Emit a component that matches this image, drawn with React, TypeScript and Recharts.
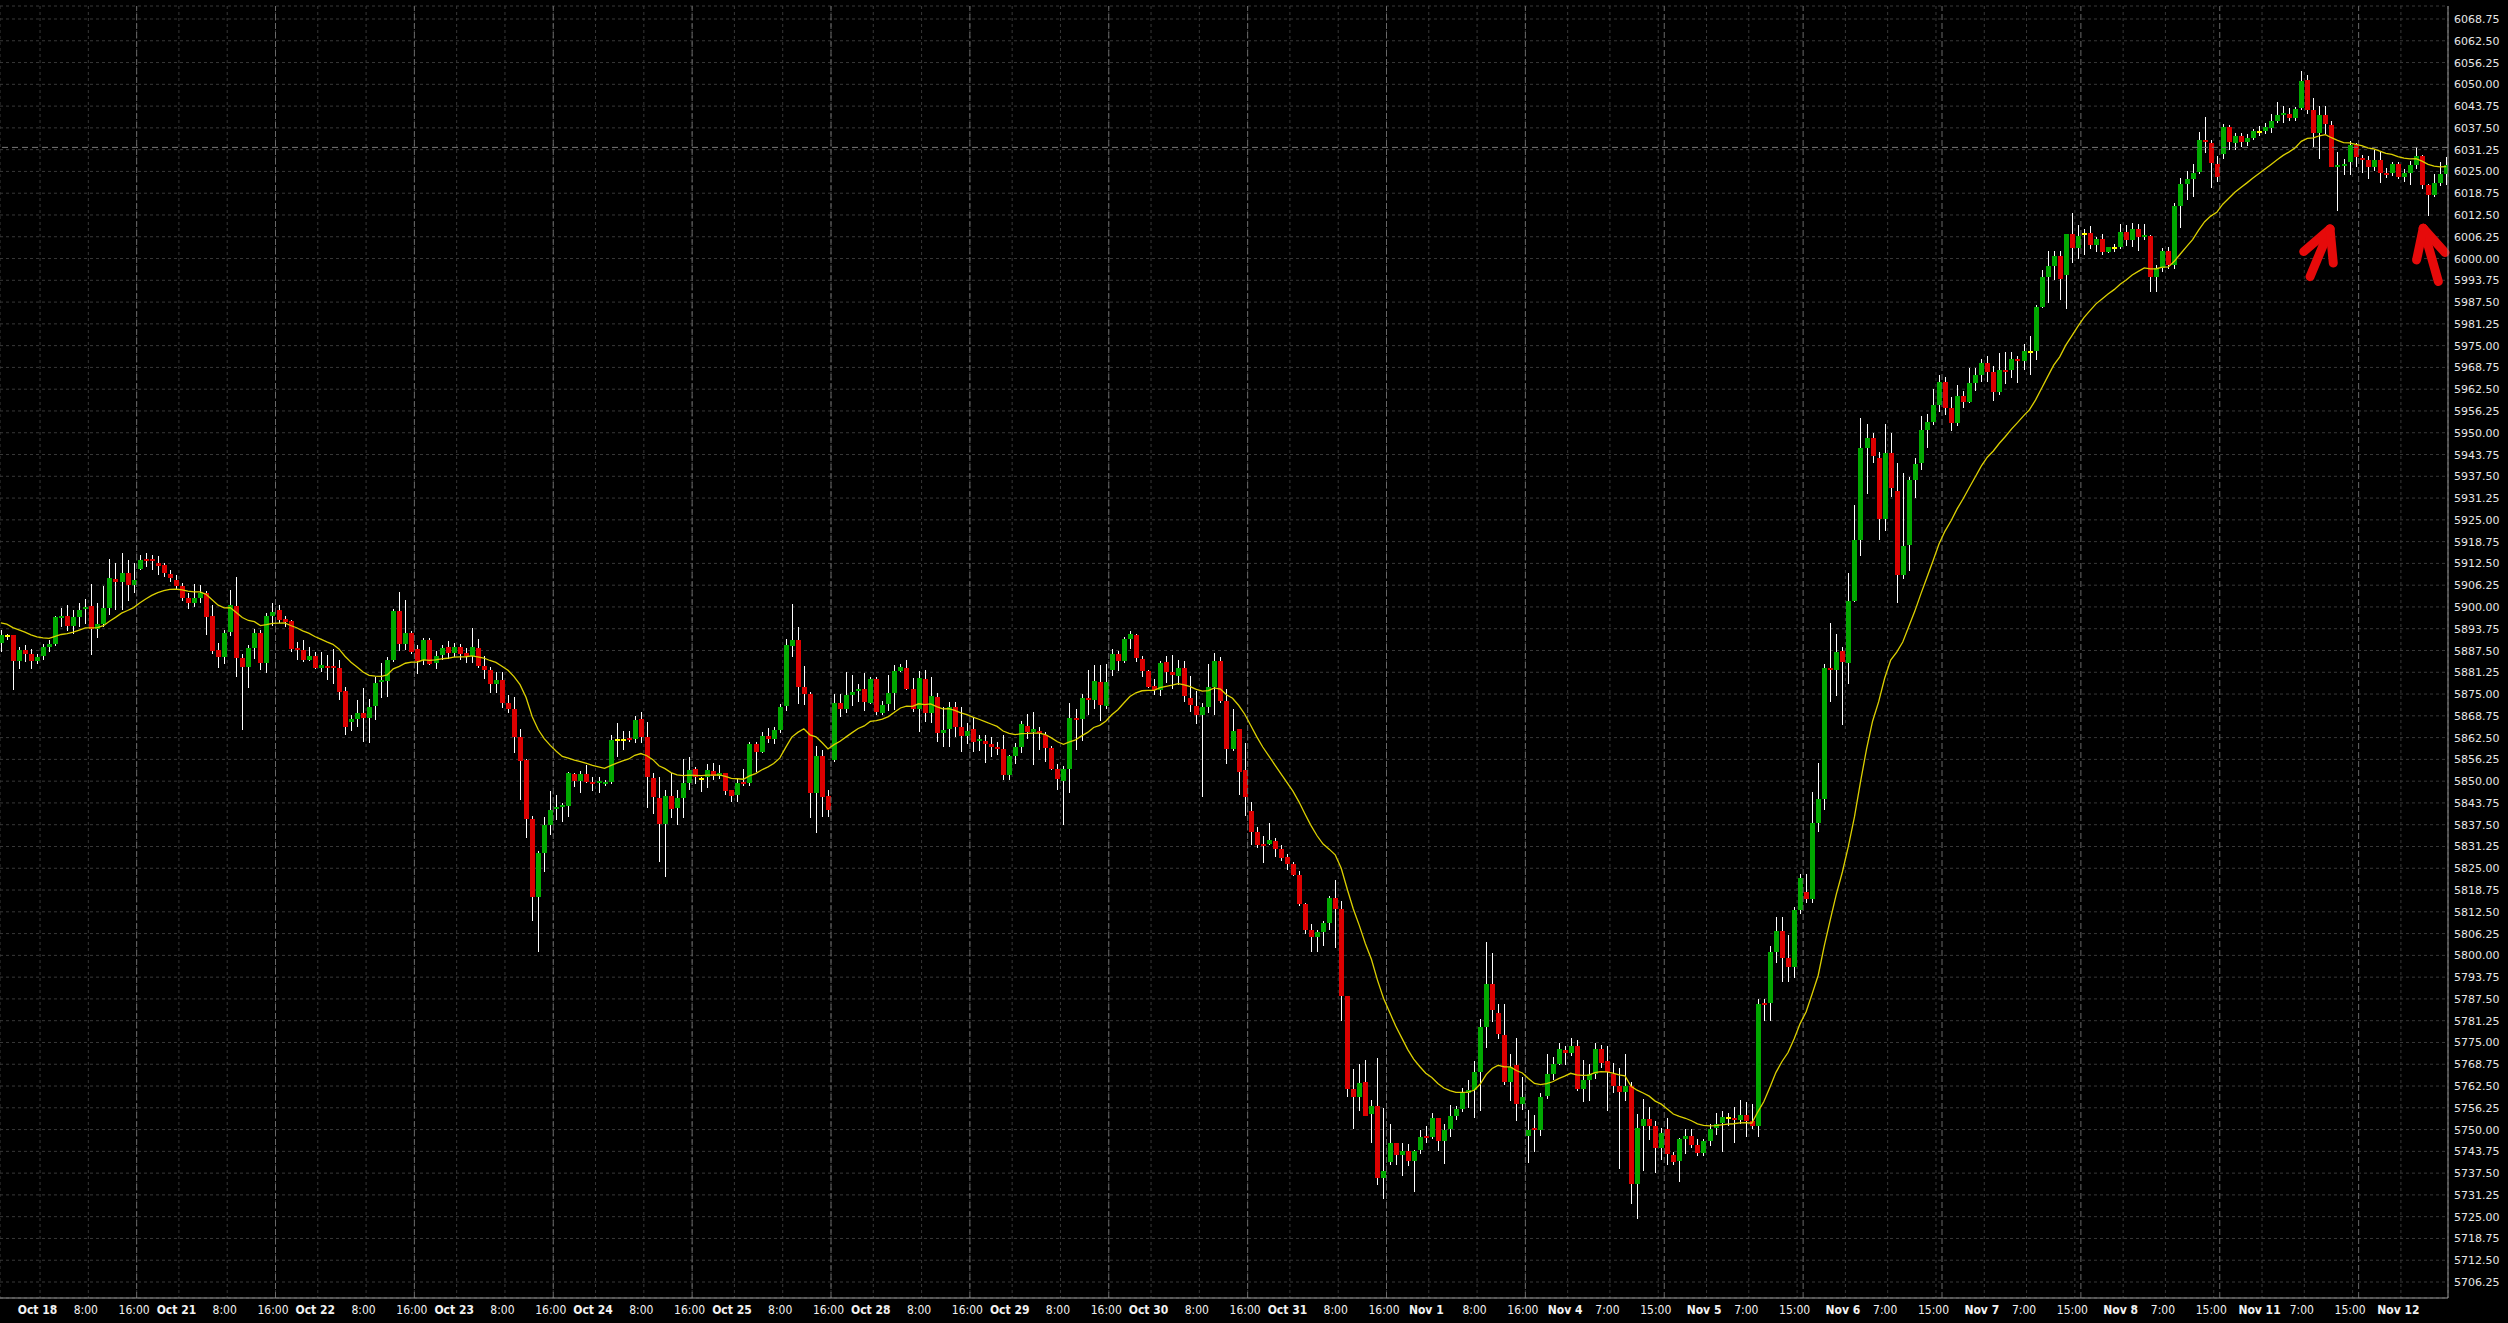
import React from 'react';
import { ComposedChart, Bar, Line, XAxis, YAxis, CartesianGrid, ReferenceLine } from 'recharts';

const W = 2508;
const H = 1323;

// hourly candles, index 0..405
const opens = [
  5889.6, 5891.7, 5891.9, 5884.5, 5887.6, 5886.6, 5884.5, 5885.8, 5888.6, 5889.3,
  5897.0, 5897.4, 5894.6, 5897.2, 5899.4, 5900.4, 5893.6, 5895.1, 5899.8, 5908.0,
  5907.3, 5909.8, 5906.3, 5911.0, 5913.7, 5913.7, 5912.5, 5911.9, 5909.6, 5907.8,
  5906.0, 5902.7, 5901.0, 5902.7, 5903.9, 5897.4, 5887.6, 5885.6, 5892.9, 5900.2,
  5885.4, 5882.9, 5888.1, 5892.6, 5883.9, 5897.4, 5899.1, 5896.4, 5895.9, 5888.3,
  5887.6, 5884.8, 5885.9, 5882.6, 5883.1, 5883.0, 5882.6, 5875.8, 5866.9, 5867.8,
  5869.6, 5868.0, 5871.6, 5878.5, 5878.8, 5884.8, 5898.8, 5889.5, 5892.4, 5887.9,
  5884.8, 5890.5, 5884.0, 5886.2, 5888.6, 5886.7, 5888.6, 5886.7, 5886.0, 5888.3,
  5883.0, 5882.0, 5877.8, 5879.0, 5872.5, 5870.7, 5862.6, 5856.0, 5839.0, 5816.8,
  5829.3, 5837.4, 5842.2, 5842.6, 5843.0, 5852.1, 5850.0, 5852.0, 5849.8, 5849.4,
  5849.3, 5849.8, 5861.8, 5861.8, 5862.3, 5862.0, 5867.7, 5862.6, 5851.0, 5845.3,
  5837.7, 5845.7, 5842.2, 5845.3, 5849.4, 5853.4, 5850.7, 5851.1, 5853.0, 5851.5,
  5852.2, 5847.5, 5846.0, 5849.6, 5849.6, 5860.6, 5858.5, 5862.9, 5862.0, 5864.7,
  5871.6, 5888.8, 5890.5, 5876.9, 5875.0, 5846.7, 5857.2, 5845.7, 5856.0, 5872.3,
  5870.7, 5874.7, 5875.8, 5876.4, 5872.5, 5879.3, 5869.6, 5872.1, 5875.4, 5881.7,
  5882.4, 5876.4, 5870.7, 5879.3, 5869.5, 5874.2, 5863.7, 5865.1, 5871.4, 5865.6,
  5862.9, 5864.9, 5861.5, 5861.6, 5860.8, 5859.7, 5859.2, 5851.8, 5857.2, 5859.8,
  5865.9, 5864.2, 5864.4, 5863.3, 5859.4, 5853.4, 5850.1, 5853.4, 5868.1, 5867.7,
  5873.8, 5873.4, 5878.4, 5871.7, 5881.8, 5886.5, 5884.5, 5890.7, 5892.0, 5885.1,
  5881.5, 5877.2, 5876.1, 5884.2, 5881.3, 5880.3, 5882.4, 5874.0, 5871.7, 5868.9,
  5871.3, 5877.0, 5884.4, 5873.1, 5859.2, 5864.9, 5853.2, 5841.5, 5835.4, 5831.8,
  5832.0, 5832.7, 5830.4, 5828.2, 5826.1, 5823.2, 5814.8, 5807.4, 5805.4, 5806.8,
  5809.4, 5816.6, 5813.3, 5788.4, 5761.6, 5759.4, 5763.6, 5754.4, 5756.8, 5736.0,
  5740.8, 5746.1, 5742.8, 5743.8, 5741.1, 5744.2, 5748.1, 5747.9, 5753.3, 5746.7,
  5750.2, 5753.9, 5755.9, 5760.6, 5761.3, 5766.6, 5779.4, 5791.9, 5783.6, 5777.2,
  5763.6, 5768.4, 5757.3, 5748.2, 5750.4, 5749.8, 5759.6, 5766.0, 5768.9, 5772.7,
  5772.1, 5774.0, 5761.6, 5764.1, 5766.0, 5773.2, 5769.6, 5766.0, 5762.5, 5760.9,
  5762.5, 5734.5, 5750.9, 5753.0, 5750.9, 5744.6, 5750.1, 5742.6, 5740.9, 5747.3,
  5748.2, 5745.7, 5743.4, 5746.6, 5750.4, 5752.0, 5753.3, 5753.3, 5752.8, 5754.1,
  5752.5, 5750.9, 5786.4, 5786.4, 5801.1, 5807.1, 5799.2, 5796.6, 5813.1, 5818.3,
  5816.2, 5838.0, 5844.9, 5882.6, 5882.0, 5887.4, 5883.9, 5901.8, 5919.3, 5945.7,
  5948.4, 5942.8, 5925.3, 5944.1, 5933.3, 5909.1, 5917.7, 5936.5, 5941.2, 5950.8,
  5953.2, 5958.0, 5964.5, 5957.0, 5952.8, 5960.5, 5958.7, 5964.2, 5966.7, 5969.9,
  5967.5, 5961.6, 5968.0, 5968.0, 5971.1, 5970.5, 5973.3, 5973.5, 5986.1, 5994.6,
  5997.9, 6000.7, 5995.3, 6007.0, 6003.0, 6007.0, 6007.3, 6004.0, 6005.6, 6001.8,
  6003.0, 6003.2, 6007.6, 6005.4, 6008.6, 6006.2, 6006.5, 5994.6, 5997.4, 6002.1,
  5998.2, 6015.2, 6021.3, 6022.7, 6024.9, 6033.9, 6033.1, 6027.1, 6030.1, 6037.8,
  6033.1, 6035.2, 6033.4, 6034.5, 6036.3, 6036.7, 6037.4, 6039.6, 6041.1, 6041.4,
  6040.3, 6043.3, 6051.3, 6042.5, 6035.9, 6041.1, 6038.3, 6026.4, 6026.7, 6027.6,
  6032.6, 6028.9, 6028.2, 6026.2, 6028.4, 6024.6, 6024.6, 6027.1, 6023.5, 6024.6,
  6026.8, 6029.3, 6021.0, 6018.3, 6021.6, 6024.3,
];

const highs = [
  5893.5, 5892.2, 5892.0, 5888.5, 5889.2, 5887.8, 5886.6, 5889.3, 5890.6, 5897.5,
  5899.8, 5900.5, 5899.2, 5901.0, 5902.4, 5906.5, 5901.1, 5906.0, 5913.9, 5912.7,
  5915.6, 5913.5, 5912.5, 5914.9, 5915.6, 5914.9, 5914.5, 5912.7, 5910.6, 5909.1,
  5906.8, 5903.9, 5906.6, 5906.3, 5904.6, 5900.5, 5889.7, 5893.4, 5904.9, 5908.7,
  5886.4, 5889.0, 5893.8, 5893.5, 5898.2, 5901.2, 5900.5, 5897.4, 5896.2, 5890.0,
  5890.5, 5888.5, 5887.1, 5887.1, 5886.2, 5887.9, 5884.8, 5877.1, 5868.9, 5873.3,
  5876.6, 5873.7, 5879.9, 5884.0, 5885.7, 5899.3, 5904.4, 5902.0, 5893.1, 5889.0,
  5891.0, 5891.0, 5887.4, 5889.0, 5890.3, 5889.7, 5889.5, 5888.3, 5894.1, 5890.7,
  5885.8, 5882.8, 5881.4, 5881.4, 5874.7, 5874.2, 5864.9, 5856.5, 5840.0, 5830.0,
  5839.6, 5847.2, 5846.0, 5843.8, 5852.7, 5852.4, 5853.0, 5854.6, 5851.1, 5851.3,
  5850.3, 5863.2, 5866.8, 5864.5, 5864.5, 5868.7, 5869.9, 5867.0, 5852.4, 5851.1,
  5847.5, 5852.4, 5847.5, 5856.5, 5857.0, 5854.1, 5851.3, 5854.9, 5855.1, 5854.6,
  5852.4, 5847.6, 5850.8, 5853.4, 5861.3, 5861.3, 5864.2, 5865.2, 5865.6, 5872.1,
  5890.7, 5900.8, 5894.3, 5883.1, 5875.7, 5860.1, 5858.9, 5847.5, 5875.0, 5875.0,
  5881.4, 5880.5, 5878.0, 5880.9, 5880.0, 5880.0, 5873.0, 5880.5, 5883.3, 5883.6,
  5884.8, 5879.5, 5881.7, 5881.9, 5879.8, 5875.2, 5871.2, 5872.8, 5872.8, 5871.4,
  5866.6, 5868.0, 5863.2, 5863.2, 5862.8, 5861.3, 5863.2, 5857.5, 5861.0, 5867.3,
  5869.3, 5869.9, 5865.6, 5864.2, 5860.1, 5855.0, 5854.4, 5872.5, 5870.8, 5874.9,
  5882.0, 5883.2, 5883.2, 5883.6, 5888.0, 5887.5, 5891.5, 5893.1, 5892.1, 5885.9,
  5882.0, 5879.2, 5884.4, 5885.9, 5886.3, 5884.7, 5884.4, 5880.3, 5875.8, 5872.3,
  5883.6, 5886.8, 5885.6, 5876.4, 5870.8, 5865.1, 5860.9, 5843.9, 5836.8, 5834.2,
  5838.1, 5833.6, 5831.8, 5829.2, 5826.8, 5824.1, 5815.1, 5808.9, 5807.4, 5809.8,
  5816.9, 5821.7, 5815.7, 5788.4, 5767.5, 5768.9, 5769.9, 5758.6, 5770.5, 5756.2,
  5751.5, 5746.1, 5746.1, 5745.9, 5744.0, 5749.9, 5750.9, 5754.7, 5753.3, 5751.5,
  5757.1, 5756.8, 5761.8, 5764.2, 5769.7, 5781.6, 5803.8, 5800.8, 5786.0, 5785.9,
  5771.6, 5776.4, 5765.2, 5755.7, 5754.1, 5760.5, 5771.6, 5770.8, 5774.8, 5774.0,
  5776.4, 5775.6, 5770.0, 5768.9, 5774.8, 5774.3, 5774.0, 5769.2, 5767.6, 5771.6,
  5763.6, 5754.6, 5758.9, 5756.5, 5752.5, 5750.4, 5753.3, 5743.7, 5747.7, 5750.1,
  5750.1, 5747.3, 5747.3, 5751.7, 5754.9, 5755.2, 5754.9, 5756.5, 5758.4, 5757.8,
  5757.3, 5787.6, 5787.6, 5802.7, 5810.9, 5810.9, 5805.9, 5813.8, 5823.4, 5823.4,
  5846.9, 5855.2, 5883.6, 5895.4, 5892.2, 5888.4, 5909.7, 5929.3, 5954.3, 5952.4,
  5950.0, 5944.4, 5952.4, 5950.0, 5941.2, 5938.4, 5937.3, 5942.8, 5954.8, 5955.3,
  5962.5, 5966.5, 5966.0, 5960.3, 5963.6, 5962.0, 5968.6, 5968.6, 5971.1, 5971.9,
  5969.1, 5972.9, 5973.3, 5973.3, 5971.9, 5975.5, 5977.7, 5986.7, 5996.6, 6002.1,
  6002.1, 6002.1, 6007.0, 6013.0, 6009.5, 6008.6, 6009.2, 6006.2, 6007.0, 6003.4,
  6004.3, 6009.8, 6009.6, 6010.3, 6010.0, 6009.8, 6006.7, 5998.2, 6003.0, 6003.2,
  6015.8, 6023.1, 6025.1, 6027.1, 6036.3, 6040.5, 6033.9, 6029.3, 6038.5, 6038.3,
  6036.1, 6035.9, 6035.6, 6037.2, 6038.1, 6038.9, 6041.4, 6044.9, 6043.8, 6043.3,
  6043.6, 6053.7, 6052.6, 6046.0, 6043.8, 6043.8, 6039.4, 6030.6, 6028.6, 6033.7,
  6033.1, 6029.7, 6029.5, 6031.2, 6030.6, 6026.0, 6027.6, 6027.6, 6025.7, 6027.9,
  6032.0, 6029.8, 6021.3, 6024.3, 6027.6, 6029.0,
];

const lows = [
  5887.0, 5890.4, 5876.3, 5882.3, 5884.2, 5882.3, 5883.5, 5884.9, 5887.1, 5888.8,
  5894.3, 5893.0, 5892.2, 5894.3, 5895.2, 5886.1, 5891.1, 5894.3, 5897.7, 5899.2,
  5899.2, 5901.8, 5904.1, 5910.6, 5911.6, 5910.6, 5909.1, 5908.6, 5907.2, 5905.0,
  5901.7, 5899.3, 5900.0, 5901.2, 5891.9, 5886.4, 5882.6, 5883.5, 5891.7, 5879.9,
  5864.7, 5876.8, 5885.2, 5882.0, 5881.0, 5894.5, 5895.5, 5894.3, 5887.0, 5884.7,
  5884.3, 5884.5, 5882.1, 5881.4, 5879.0, 5877.9, 5873.3, 5863.2, 5864.5, 5865.6,
  5861.3, 5861.0, 5867.6, 5874.0, 5874.2, 5884.3, 5887.4, 5887.6, 5886.4, 5880.7,
  5883.3, 5883.3, 5882.1, 5884.8, 5885.2, 5885.7, 5884.9, 5883.9, 5883.9, 5882.6,
  5879.4, 5875.4, 5875.2, 5870.9, 5869.5, 5858.0, 5844.6, 5833.6, 5810.0, 5801.0,
  5824.0, 5834.5, 5838.8, 5838.4, 5839.6, 5848.4, 5846.7, 5849.4, 5847.3, 5846.7,
  5848.6, 5849.2, 5857.0, 5858.9, 5861.3, 5861.0, 5861.0, 5842.2, 5840.7, 5826.9,
  5822.4, 5839.3, 5837.4, 5839.3, 5847.5, 5849.2, 5847.0, 5847.9, 5850.3, 5850.5,
  5846.0, 5844.1, 5844.1, 5848.6, 5848.6, 5852.7, 5858.2, 5860.9, 5860.7, 5863.7,
  5870.2, 5885.7, 5872.1, 5871.8, 5839.3, 5835.0, 5839.6, 5839.6, 5855.6, 5868.3,
  5869.6, 5871.6, 5872.8, 5870.2, 5872.1, 5869.0, 5869.0, 5870.2, 5870.4, 5881.4,
  5876.2, 5869.9, 5864.2, 5867.1, 5866.6, 5861.1, 5859.9, 5859.9, 5862.6, 5858.4,
  5860.8, 5858.4, 5858.7, 5855.1, 5857.0, 5857.5, 5850.3, 5850.3, 5855.0, 5858.2,
  5862.1, 5854.6, 5858.9, 5855.4, 5853.2, 5847.5, 5837.5, 5846.7, 5858.9, 5861.5,
  5868.9, 5870.8, 5867.3, 5870.8, 5880.3, 5881.5, 5883.9, 5888.0, 5884.2, 5880.0,
  5876.8, 5874.6, 5874.4, 5878.2, 5876.4, 5877.6, 5872.8, 5869.9, 5866.5, 5845.5,
  5869.6, 5868.9, 5872.3, 5855.0, 5858.6, 5846.1, 5840.1, 5831.8, 5830.8, 5826.4,
  5831.8, 5828.2, 5827.0, 5824.6, 5822.9, 5814.2, 5806.2, 5800.9, 5801.1, 5802.6,
  5807.4, 5802.0, 5781.2, 5759.4, 5750.3, 5755.4, 5753.8, 5746.1, 5734.2, 5730.0,
  5739.9, 5739.9, 5736.8, 5739.6, 5732.1, 5743.1, 5746.1, 5747.3, 5743.9, 5740.2,
  5747.9, 5752.7, 5755.0, 5756.2, 5753.3, 5755.4, 5773.5, 5780.9, 5776.0, 5762.8,
  5758.1, 5752.5, 5755.7, 5740.3, 5743.7, 5748.2, 5758.9, 5764.1, 5768.4, 5768.4,
  5771.1, 5761.0, 5757.8, 5758.1, 5764.4, 5767.6, 5755.2, 5760.5, 5738.7, 5758.1,
  5728.6, 5724.3, 5738.2, 5746.9, 5737.4, 5741.4, 5739.8, 5739.8, 5735.0, 5743.0,
  5744.6, 5742.5, 5742.5, 5745.4, 5748.5, 5743.7, 5750.9, 5746.2, 5751.7, 5747.8,
  5750.1, 5747.8, 5781.2, 5781.2, 5797.9, 5792.3, 5792.3, 5793.4, 5811.9, 5815.1,
  5815.1, 5835.3, 5841.7, 5872.8, 5874.4, 5866.1, 5877.9, 5901.5, 5914.5, 5932.5,
  5941.2, 5919.3, 5921.8, 5931.7, 5901.1, 5908.1, 5910.2, 5931.4, 5939.3, 5945.7,
  5952.1, 5956.0, 5955.0, 5950.6, 5951.8, 5957.2, 5958.4, 5962.0, 5964.7, 5964.7,
  5959.2, 5960.9, 5963.9, 5965.8, 5964.2, 5968.0, 5966.7, 5970.8, 5985.8, 5987.2,
  5993.8, 5988.0, 5985.6, 5998.6, 5999.9, 6001.0, 6002.6, 6001.8, 6001.0, 6001.5,
  6001.8, 6002.6, 6003.7, 6003.4, 6002.1, 6005.4, 5990.5, 5990.5, 5996.0, 5997.1,
  5997.1, 6008.7, 6016.9, 6017.7, 6024.3, 6030.4, 6020.2, 6022.0, 6028.6, 6031.2,
  6031.2, 6032.0, 6032.3, 6033.9, 6035.2, 6035.6, 6036.1, 6038.9, 6038.9, 6039.4,
  6039.6, 6042.7, 6041.6, 6031.9, 6028.6, 6035.6, 6026.2, 6013.6, 6024.0, 6024.0,
  6026.4, 6024.6, 6022.7, 6025.1, 6021.8, 6023.1, 6023.8, 6022.9, 6022.0, 6021.0,
  6025.7, 6019.9, 6012.2, 6017.7, 6020.7, 6021.0,
];

const closes = [
  5891.9, 5891.7, 5884.5, 5887.6, 5886.6, 5884.5, 5885.6, 5888.6, 5889.3, 5897.0,
  5897.4, 5894.6, 5897.0, 5899.0, 5900.1, 5893.6, 5895.1, 5899.8, 5908.2, 5907.3,
  5909.8, 5906.3, 5907.7, 5913.6, 5913.2, 5913.1, 5911.8, 5909.8, 5908.4, 5906.1,
  5902.7, 5901.0, 5902.7, 5903.9, 5897.2, 5887.4, 5885.6, 5892.4, 5900.5, 5885.4,
  5882.9, 5888.1, 5892.6, 5883.9, 5897.4, 5898.6, 5896.2, 5895.8, 5887.9, 5887.8,
  5884.9, 5885.9, 5882.6, 5883.3, 5882.7, 5882.6, 5875.6, 5865.6, 5867.8, 5869.6,
  5868.0, 5871.2, 5878.3, 5879.0, 5884.8, 5898.8, 5889.5, 5892.4, 5887.2, 5884.6,
  5890.5, 5883.6, 5885.8, 5888.2, 5886.7, 5888.6, 5886.5, 5886.0, 5888.6, 5883.0,
  5882.0, 5877.9, 5879.0, 5872.5, 5870.7, 5862.6, 5855.9, 5839.0, 5816.8, 5829.3,
  5837.4, 5841.7, 5842.5, 5843.0, 5852.4, 5850.1, 5852.0, 5849.8, 5849.4, 5849.9,
  5849.8, 5861.8, 5861.8, 5861.8, 5861.8, 5867.5, 5862.7, 5851.3, 5845.5, 5837.7,
  5845.7, 5841.9, 5845.3, 5849.6, 5853.2, 5851.1, 5850.7, 5853.2, 5851.5, 5852.4,
  5847.3, 5845.7, 5849.6, 5849.1, 5860.8, 5858.5, 5862.9, 5862.0, 5864.7, 5871.4,
  5889.1, 5890.5, 5876.9, 5875.0, 5846.7, 5857.2, 5845.5, 5841.7, 5872.3, 5870.7,
  5874.7, 5875.5, 5876.4, 5872.8, 5879.3, 5869.9, 5871.9, 5875.2, 5881.6, 5882.7,
  5876.4, 5870.7, 5879.5, 5869.6, 5874.4, 5863.7, 5864.7, 5871.4, 5865.6, 5862.9,
  5864.5, 5861.3, 5862.0, 5860.6, 5859.9, 5859.2, 5851.8, 5857.2, 5859.8, 5866.5,
  5864.2, 5864.9, 5863.7, 5859.4, 5853.4, 5850.6, 5853.4, 5868.1, 5867.5, 5873.8,
  5873.4, 5878.8, 5871.9, 5878.4, 5886.5, 5884.5, 5890.7, 5892.2, 5885.3, 5881.5,
  5877.0, 5876.3, 5883.9, 5881.2, 5880.6, 5882.4, 5874.3, 5872.0, 5868.9, 5871.3,
  5877.0, 5884.4, 5873.1, 5859.2, 5864.5, 5852.6, 5845.5, 5835.4, 5831.8, 5831.4,
  5833.0, 5830.4, 5828.0, 5826.1, 5823.2, 5814.8, 5807.4, 5805.4, 5806.8, 5809.4,
  5816.6, 5813.3, 5788.4, 5761.6, 5759.4, 5763.4, 5753.8, 5756.8, 5736.0, 5738.0,
  5746.1, 5742.8, 5743.8, 5741.1, 5743.8, 5747.8, 5747.7, 5753.3, 5746.7, 5749.9,
  5753.9, 5755.9, 5760.6, 5761.3, 5766.6, 5779.4, 5791.9, 5784.2, 5777.3, 5763.6,
  5767.9, 5757.3, 5759.4, 5749.8, 5749.8, 5759.3, 5766.0, 5768.9, 5773.1, 5772.1,
  5774.0, 5761.6, 5764.1, 5766.0, 5773.2, 5769.2, 5766.4, 5762.5, 5760.9, 5762.5,
  5734.5, 5750.4, 5753.0, 5750.9, 5744.6, 5749.0, 5742.9, 5740.6, 5747.3, 5748.2,
  5745.7, 5743.4, 5746.6, 5750.1, 5751.7, 5753.6, 5753.3, 5752.8, 5754.1, 5752.5,
  5750.9, 5785.9, 5785.9, 5801.1, 5807.1, 5799.2, 5796.6, 5813.1, 5822.1, 5816.2,
  5838.0, 5844.9, 5882.6, 5882.0, 5887.1, 5884.2, 5901.8, 5919.3, 5945.7, 5948.4,
  5943.2, 5925.3, 5944.1, 5934.1, 5909.1, 5917.4, 5936.5, 5940.9, 5950.8, 5953.2,
  5958.0, 5964.5, 5957.0, 5952.8, 5960.5, 5958.7, 5964.2, 5966.7, 5969.9, 5967.5,
  5961.6, 5968.0, 5967.5, 5971.1, 5970.5, 5973.5, 5973.3, 5986.1, 5994.6, 5997.9,
  6000.7, 5994.2, 6007.0, 6003.0, 6006.5, 6007.0, 6004.0, 6005.6, 6001.8, 6003.2,
  6003.0, 6007.6, 6005.4, 6008.6, 6006.2, 6006.7, 5994.6, 5997.4, 6002.1, 5998.2,
  6015.2, 6021.3, 6022.7, 6024.6, 6033.9, 6033.6, 6027.5, 6023.5, 6037.8, 6033.4,
  6035.2, 6033.4, 6034.5, 6036.7, 6036.3, 6037.8, 6039.6, 6041.1, 6041.6, 6040.3,
  6042.9, 6051.0, 6042.7, 6035.9, 6041.1, 6038.5, 6026.4, 6026.6, 6027.1, 6032.6,
  6029.0, 6028.4, 6026.2, 6028.4, 6024.6, 6024.0, 6027.1, 6023.5, 6024.6, 6026.8,
  6029.3, 6021.0, 6018.3, 6021.6, 6024.3, 6026.8,
];

// EMA(20) of closes, seeded with the value read at the left edge
const emaPeriod = 20;
const emaSeed = 5895.8;

const tickPos = [
  6.5, 14.5, 22.5, 29.5, 37.5, 45.5, 52.5, 60.5, 68.5, 75.5, 83.5, 91.5,
  98.5, 106.5, 114.5, 121.5, 129.5, 137.5, 144.5, 152.5, 160.5, 167.5, 175.5, 183.5,
  190.5, 198.5, 206.5, 213.5, 221.5, 229.5, 236.5, 244.5, 252.5, 259.5, 266.5, 274.5,
  282.5, 289.5, 297.5, 305.5, 312.5, 320.5, 328.5, 335.5, 343.5, 351.5, 358.5, 366.5,
  374.5, 381.5, 389.5, 397.5,
];
const tickText = [
  'Oct 18', '8:00', '16:00', 'Oct 21', '8:00', '16:00', 'Oct 22', '8:00', '16:00', 'Oct 23', '8:00', '16:00',
  'Oct 24', '8:00', '16:00', 'Oct 25', '8:00', '16:00', 'Oct 28', '8:00', '16:00', 'Oct 29', '8:00', '16:00',
  'Oct 30', '8:00', '16:00', 'Oct 31', '8:00', '16:00', 'Nov 1', '8:00', '16:00', 'Nov 4', '7:00', '15:00',
  'Nov 5', '7:00', '15:00', 'Nov 6', '7:00', '15:00', 'Nov 7', '7:00', '15:00', 'Nov 8', '7:00', '15:00',
  'Nov 11', '7:00', '15:00', 'Nov 12',
];
const sessionBreaks = [
  22.5, 45.5, 68.5, 91.5, 114.5, 137.5, 160.5, 183.5, 206.5, 229.5, 252.5,
  275.5, 298.5, 321.5, 344.5, 367.5, 390.5,
];
const yTicks = [
  5706.25, 5712.5, 5718.75, 5725, 5731.25, 5737.5, 5743.75, 5750, 5756.25, 5762.5,
  5768.75, 5775, 5781.25, 5787.5, 5793.75, 5800, 5806.25, 5812.5, 5818.75, 5825,
  5831.25, 5837.5, 5843.75, 5850, 5856.25, 5862.5, 5868.75, 5875, 5881.25, 5887.5,
  5893.75, 5900, 5906.25, 5912.5, 5918.75, 5925, 5931.25, 5937.5, 5943.75, 5950,
  5956.25, 5962.5, 5968.75, 5975, 5981.25, 5987.5, 5993.75, 6000, 6006.25, 6012.5,
  6018.75, 6025, 6031.25, 6037.5, 6043.75, 6050, 6056.25, 6062.5, 6068.75,
];
const priceLine = 6031.9;

// hand-drawn annotation arrows (index, price)
const arrow1 = { tip: [385.76, 6008.5], tail: [382.45, 5994.8], wingL: [381.4, 6002.0], wingR: [386.3, 5998.7] };
const arrow2 = { tip: [401.2, 6008.7], tail: [403.7, 5993.4], wingL: [400.1, 5999.6], wingR: [404.8, 6001.7] };

const alpha = 2 / (emaPeriod + 1);
const emaVals: number[] = [];
{
  let e = emaSeed;
  for (const c of closes) {
    e = e + alpha * (c - e);
    emaVals.push(e);
  }
}

const data = closes.map((c, i) => ({
  k: i,
  range: [lows[i], highs[i]],
  open: opens[i],
  high: highs[i],
  low: lows[i],
  close: c,
  ema: emaVals[i],
}));

const Candle = (props: any) => {
  const { x, y, width, height, payload } = props;
  if (x == null || y == null || !payload) return null;
  const { open, close, high, low } = payload;
  const span = high - low || 1;
  const ppu = height / span;
  const cx = Math.floor(x + width / 2);
  const yO = y + (high - open) * ppu;
  const yC = y + (high - close) * ppu;
  let top = Math.min(yO, yC);
  let bh = Math.abs(yO - yC);
  if (bh < 2) {
    top = (yO + yC) / 2 - 1;
    bh = 2;
  }
  const color = open === close ? '#ffff00' : close > open ? '#00a800' : '#dc0000';
  return (
    <g shapeRendering="crispEdges">
      <rect x={cx} y={y} width={1} height={Math.max(height, 1)} fill="#ffffff" />
      <rect x={cx - 2} y={top} width={5} height={bh} fill={color} />
    </g>
  );
};

const XTick = (props: any) => {
  const { x, y, payload } = props;
  const idx = tickPos.indexOf(payload.value);
  const label = idx >= 0 ? tickText[idx] : '';
  const isDate = /^[A-Z]/.test(label);
  return (
    <text
      x={x - 2.5}
      y={y + 16}
      textAnchor="middle"
      fill="#f2f2f2"
      fontSize={12}
      fontWeight={isDate ? 'bold' : 'normal'}
      fontFamily="'DejaVu Sans Condensed', 'DejaVu Sans', sans-serif"
      style={{ fontStretch: 'condensed' }}
    >
      {label}
    </text>
  );
};

const YTick = (props: any) => {
  const { x, y, payload } = props;
  return (
    <text x={x} y={y + 4} textAnchor="start" fill="#e6e6e6" fontSize={11} fontFamily="'DejaVu Sans', sans-serif">
      {Number(payload.value).toFixed(2)}
    </text>
  );
};

const arrowSegs = (a: any) => [
  [a.tail, a.tip],
  [a.wingL, a.tip],
  [a.wingR, a.tip],
];

export default function App() {
  const segs = [...arrowSegs(arrow1), ...arrowSegs(arrow2)];
  return (
    <div style={{ position: 'absolute', left: 0, top: 0, width: W, height: H, background: '#000', overflow: 'hidden' }}>
      <ComposedChart width={W} height={H} data={data} margin={{ top: 6, right: 0, bottom: 0, left: 0 }}>
        <CartesianGrid stroke="#383838" strokeDasharray="3 3" />
        <XAxis
          dataKey="k"
          type="number"
          domain={[-0.13, 405.3]}
          allowDataOverflow
          ticks={tickPos}
          interval={0}
          height={25}
          tickSize={0}
          tickMargin={0}
          tickLine={false}
          axisLine={{ stroke: '#9a9a9a' }}
          tick={<XTick />}
        />
        <YAxis
          orientation="right"
          type="number"
          domain={[5701.66, 6072.48]}
          allowDataOverflow
          ticks={yTicks}
          interval={0}
          width={60}
          tickSize={0}
          tickMargin={6}
          tickLine={false}
          axisLine={{ stroke: '#9a9a9a' }}
          tick={<YTick />}
        />
        {sessionBreaks.map((b) => (
          <ReferenceLine key={'s' + b} x={b} stroke="#686868" strokeDasharray="6 3" />
        ))}
        <ReferenceLine y={priceLine} stroke="#7a7a7a" strokeDasharray="6 4" />
        <Bar dataKey="range" barSize={5} shape={<Candle />} isAnimationActive={false} />
        <Line dataKey="ema" type="linear" stroke="#dcd000" strokeWidth={1.3} dot={false} activeDot={false} isAnimationActive={false} />
        {segs.map((s, i) => (
          <ReferenceLine
            key={'a' + i}
            segment={[{ x: s[0][0], y: s[0][1] }, { x: s[1][0], y: s[1][1] }]}
            stroke="#e60a0a"
            strokeWidth={9}
            strokeLinecap="round"
            ifOverflow="visible"
          />
        ))}
      </ComposedChart>
    </div>
  );
}
